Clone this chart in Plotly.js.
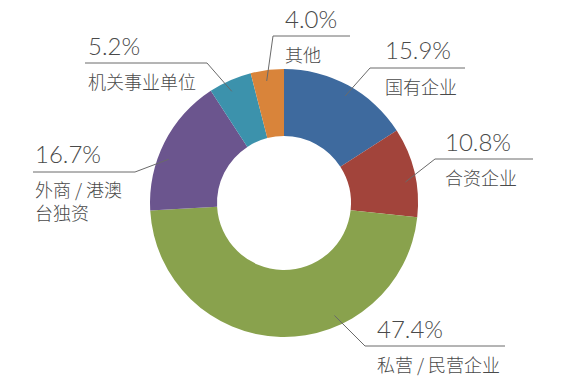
<!DOCTYPE html>
<html>
<head>
<meta charset="utf-8">
<script src="https://cdn.plot.ly/plotly-3.0.1.min.js"></script>
<style>html,body{margin:0;padding:0;background:#fff;}#chart{width:580px;height:379px;}</style>
</head>
<body>
<div id="chart"></div>
<script>
// ---- data ----
const categories = ['国有企业', '合资企业', '私营 / 民营企业', '外商 / 港澳台独资', '机关事业单位', '其他'];
const values = [15.9, 10.8, 47.4, 16.7, 5.2, 4.0];
const pctLabels = ['15.9%', '10.8%', '47.4%', '16.7%', '5.2%', '4.0%'];
const colors = ['#3e6a9e', '#a2443b', '#89a24d', '#6b558e', '#3c92ac', '#d9843a'];

// ---- layout config (pixels) ----
const W = 580, H = 379;
const cx = 284, cy = 203, R = 134;
const anchorFrac = [0.52, 0.59, 0.35, 0.40, 0.43, 0.44];
const elbow = [[370, 68], [435, 159], [365, 346], [135, 172], [207, 63], [273, 36]];
const lineEndX = [465, 533, 505, 33, 85, 350];
const textX = [385, 445, 377, 35, 88, 285];
const nameLines = categories.map(c => c === '外商 / 港澳台独资' ? '外商 / 港澳<br>台独资' : c);

const px = x => x / W;
const py = y => 1 - y / H;

const total = values.reduce((a, b) => a + b, 0);
const shapes = [];
const annotations = [];
let cum = 0;
values.forEach((v, i) => {
  const a0 = cum / total * 360, a1 = (cum + v) / total * 360;
  cum += v;
  const ang = (a0 + (a1 - a0) * anchorFrac[i]) * Math.PI / 180;
  const ix = cx + 0.92 * R * Math.sin(ang);
  const iy = cy - 0.92 * R * Math.cos(ang);
  const [ex, ey] = elbow[i];
  const lc = {color: '#6a6a6a', width: 1};
  shapes.push({type: 'line', xref: 'paper', yref: 'paper', x0: px(ix), y0: py(iy), x1: px(ex), y1: py(ey), line: lc});
  shapes.push({type: 'line', xref: 'paper', yref: 'paper', x0: px(ex), y0: py(ey), x1: px(lineEndX[i]), y1: py(ey), line: lc});
  annotations.push({xref: 'paper', yref: 'paper', x: px(textX[i] - 2), y: py(ey - 18), xanchor: 'left', yanchor: 'middle',
    text: pctLabels[i], showarrow: false, font: {family: 'Lato, "Open Sans", "Liberation Sans", sans-serif', size: 24, color: '#4a4a4a', weight: 300}});
  const twoLine = nameLines[i].indexOf('<br>') >= 0;
  annotations.push({xref: 'paper', yref: 'paper', x: px(textX[i] - 2), y: py(ey + (twoLine ? 28 : 18)), xanchor: 'left', yanchor: 'middle', align: 'left',
    text: nameLines[i], showarrow: false, font: {family: '"Noto Sans CJK SC", sans-serif', size: 18, color: '#4a4a4a', weight: 300}});
});

const trace = {
  type: 'pie',
  labels: categories,
  values: values,
  sort: false,
  direction: 'clockwise',
  rotation: 0,
  hole: 0.5,
  textinfo: 'none',
  hoverinfo: 'label+percent',
  marker: {colors: colors, line: {width: 0}},
  domain: {x: [px(cx - R), px(cx + R)], y: [py(cy + R), py(cy - R)]},
  showlegend: false
};

Plotly.newPlot('chart', [trace], {
  width: W, height: H,
  margin: {l: 0, r: 0, t: 0, b: 0},
  paper_bgcolor: '#fff',
  showlegend: false,
  shapes: shapes,
  annotations: annotations
}, {displayModeBar: false, staticPlot: true});
</script>
</body>
</html>
